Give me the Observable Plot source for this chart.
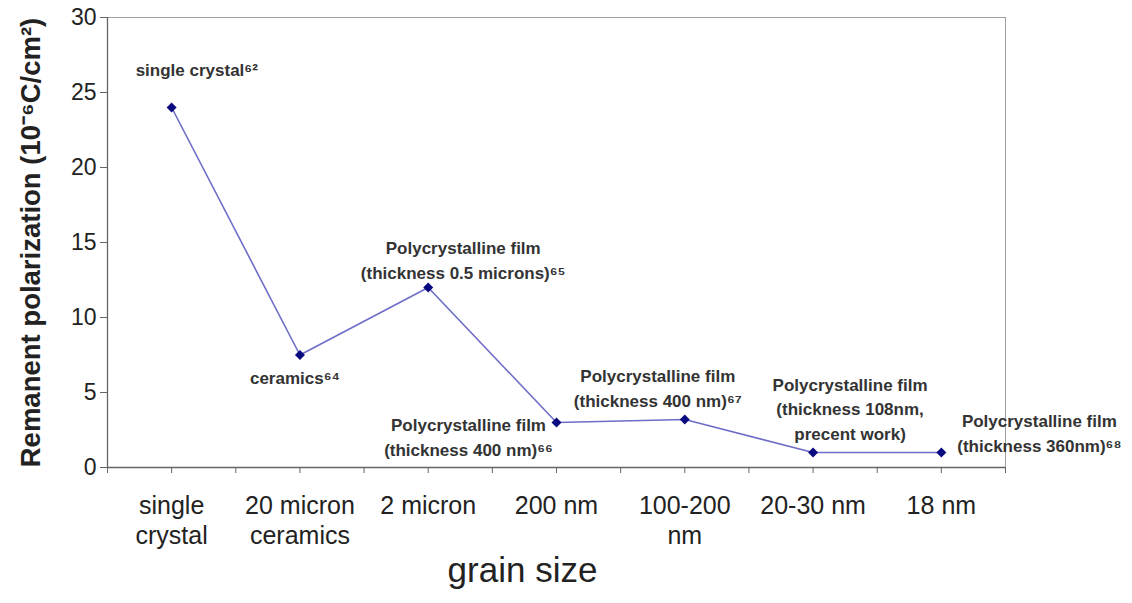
<!DOCTYPE html>
<html>
<head>
<meta charset="utf-8">
<script src="https://cdn.jsdelivr.net/npm/d3@7"></script>
<script src="https://cdn.jsdelivr.net/npm/@observablehq/plot@0.6"></script>
<style>
  html, body { margin: 0; padding: 0; background: #fff; }
</style>
</head>
<body>
<div id="chart"></div>
<script>
// ---- data ----
const categories = ["single crystal", "20 micron ceramics", "2 micron", "200 nm", "100-200 nm", "20-30 nm", "18 nm"];
const tickLabels = ["single\ncrystal", "20 micron\nceramics", "2 micron", "200 nm", "100-200\nnm", "20-30 nm", "18 nm"];
const polarization = [24, 7.5, 12, 3, 3.2, 1, 1];
const noteTexts = [
  "single crystal⁶²",
  "ceramics⁶⁴",
  "Polycrystalline film\n(thickness 0.5 microns)⁶⁵",
  "Polycrystalline film\n(thickness 400 nm)⁶⁶",
  "Polycrystalline film\n(thickness 400 nm)⁶⁷",
  "Polycrystalline film\n(thickness 108nm,\nprecent work)",
  "Polycrystalline film\n(thickness 360nm)⁶⁸"
];
const yTicks = [0, 5, 10, 15, 20, 25, 30];
const yLabel = "Remanent polarization (10⁻⁶C/cm²)";
const xLabel = "grain size";

// ---- build ----
const n = categories.length;
const rows = categories.map((c, i) => ({i, category: c, value: polarization[i], note: noteTexts[i]}));
const xMin = -0.5, xMax = n - 0.5;
const halfTicks = d3.range(xMin, xMax + 0.01, 0.5);

// label placement relative to each point (layout, not data)
const noteLayout = [
  {dx: -36, dy: -39, anchor: "start"},
  {dx: -5, dy: 21, anchor: "middle"},
  {dx: 35, dy: -29, anchor: "middle"},
  {dx: -88, dy: 13, anchor: "middle"},
  {dx: -27, dy: -33, anchor: "middle"},
  {dx: 37, dy: -45, anchor: "middle"},
  {dx: 98, dy: -21, anchor: "middle"}
];

const noteMarks = rows.map((r, k) => Plot.text([r], {
  x: "i", y: "value", text: "note",
  dx: noteLayout[k].dx, dy: noteLayout[k].dy,
  textAnchor: noteLayout[k].anchor,
  lineAnchor: "middle",
  lineHeight: 1.45,
  fontSize: 17, fontWeight: "bold", fill: "#333"
}));

const chart = Plot.plot({
  width: 1132,
  height: 603,
  marginLeft: 107,
  marginRight: 127,
  marginTop: 17,
  marginBottom: 136,
  style: {fontFamily: "'Liberation Sans', Arial, sans-serif", background: "#fff", color: "#222"},
  x: {type: "linear", domain: [xMin, xMax]},
  y: {domain: [0, 30]},
  marks: [
    Plot.frame({stroke: "#a0a0a0"}),
    Plot.ruleY([0], {stroke: "#666", strokeWidth: 1.3}),
    Plot.ruleX([xMin], {stroke: "#666", strokeWidth: 1.3}),
    Plot.axisY({ticks: yTicks, tickSize: 7, tickPadding: 4, fontSize: 23, label: null, stroke: "#666"}),
    Plot.axisX({ticks: halfTicks, tickSize: 6, tickFormat: () => "", label: null, stroke: "#666"}),
    Plot.axisX({ticks: d3.range(n), tickSize: 0, tickPadding: 26, fontSize: 25, lineHeight: 1.17,
                tickFormat: i => tickLabels[i], label: null, fill: "#222"}),
    Plot.text([yLabel], {frameAnchor: "left", dx: -76, rotate: -90, textAnchor: "middle", lineAnchor: "middle",
                         fontSize: 27.5, fontWeight: "bold", fill: "#222"}),
    Plot.text([xLabel], {frameAnchor: "bottom", dx: -34, dy: 114, fontSize: 35, fill: "#222"}),
    Plot.line(rows, {x: "i", y: "value", stroke: "#6e6ec8", strokeWidth: 1.6}),
    Plot.dot(rows, {x: "i", y: "value", symbol: "diamond2", r: 4.5, fill: "#0a0a80", stroke: "none"}),
    ...noteMarks
  ]
});
document.getElementById("chart").appendChild(chart);
</script>
</body>
</html>
